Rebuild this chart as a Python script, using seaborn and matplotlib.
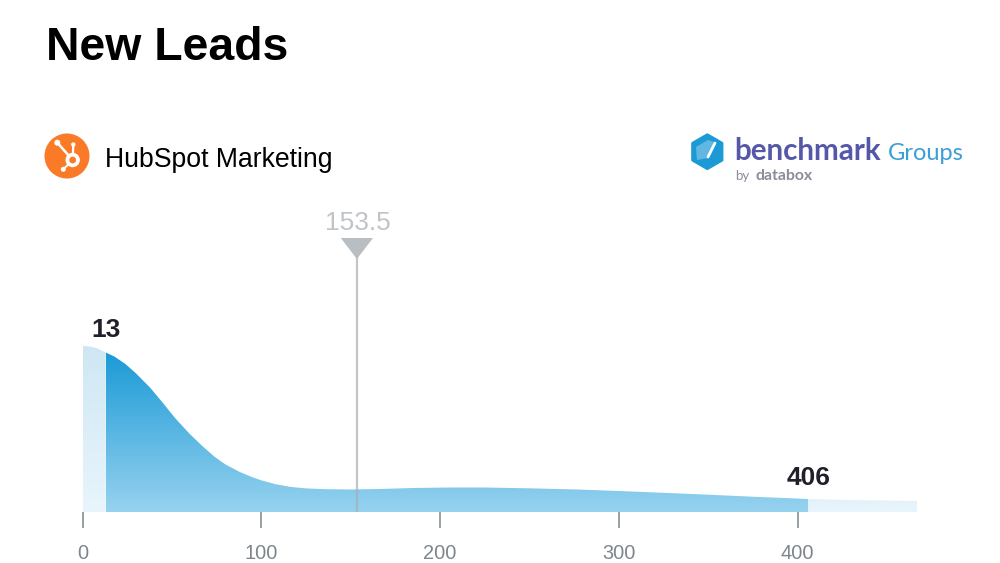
import matplotlib
matplotlib.use('Agg')
import matplotlib.pyplot as plt
from matplotlib.patches import Circle, Polygon, RegularPolygon
import numpy as np
import seaborn as sns

# curve, height in arbitrary units
value_x = [0, 4, 8, 13, 18, 24, 30, 38, 45, 52, 60, 67, 74, 80, 88, 95, 100, 108, 116, 125, 136,
           150, 166, 185, 205, 225, 250, 275, 300, 325, 350, 375, 406, 430, 466.8]
density = [166, 165.6, 163.8, 159.5, 155.3, 148, 138.5, 124, 109, 93.5, 78, 66, 55, 47.5, 40, 34.8,
           31.7, 27.8, 25.2, 23.6, 22.8, 22.5, 23, 24, 24.5, 24.5, 23.7, 22.6, 21, 19.2, 17.3, 15.3, 13, 12, 11]
tick_values = [0, 100, 200, 300, 400]
low_value = 13
high_value = 406
median_value = 153.5

TEXT_DARK = '#1f2029'
TICK_GRAY = '#7d868c'
MEDIAN_GRAY = '#b9bec2'

sns.set_theme(style='white')
plt.rcParams['font.family'] = ['Liberation Sans', 'DejaVu Sans']

fig = plt.figure(figsize=(10, 5.63), dpi=100)
W, H = 1000, 563
ax = fig.add_axes([82.5 / W, (H - 512) / H, (917 - 82.5) / W, 312 / H])

x = np.array(value_x)
y = np.array(density)
sns.lineplot(x=x, y=y, ax=ax, linewidth=0, color='#1a9ad6', errorbar=None)


def gradient_fill(mask, top, bottom, grad_top):
    # vertical gradient clipped to the area under the curve
    poly = ax.fill_between(x[mask], 0, y[mask], color='none', linewidth=0)
    c0 = np.array(matplotlib.colors.to_rgb(top))
    c1 = np.array(matplotlib.colors.to_rgb(bottom))
    t = np.linspace(0, 1, 256)[:, None]
    img = (c0 + (c1 - c0) * t)[:, None, :]
    im = ax.imshow(img, extent=[x[mask][0], x[mask][-1], 0, grad_top], aspect='auto', origin='upper', zorder=2)
    im.set_clip_path(poly.get_paths()[0], transform=ax.transData)


gradient_fill(x <= low_value, '#cfe7f4', '#e8f5fc', 166)
gradient_fill((x >= low_value) & (x <= high_value), '#1a9ad6', '#97d2ef', 159.5)
gradient_fill(x >= high_value, '#e3f2fa', '#e8f5fc', 13)
ax.set_xlim(0, 466.8)
ax.set_ylim(0, 312)

# median marker
ax.plot([median_value, median_value], [0, 265], color='#a9aeb3', lw=1.6, alpha=0.7, zorder=3)
ax.add_patch(Polygon([[median_value - 9, 274], [median_value + 9, 274], [median_value, 253]],
                     closed=True, facecolor=MEDIAN_GRAY, edgecolor='none', zorder=4))
ax.annotate(f'{median_value}', (median_value, 274), xytext=(0.7, 5.5), textcoords='offset points',
            ha='center', va='baseline', fontsize=19, color='#c0c4c8')

ax.annotate(f'{low_value}', (low_value, 159.5), xytext=(0, 11.5), textcoords='offset points',
            ha='center', va='baseline', fontsize=19, fontweight='bold', color=TEXT_DARK)
ax.annotate(f'{high_value}', (high_value, 13), xytext=(0, 10), textcoords='offset points',
            ha='center', va='baseline', fontsize=19, fontweight='bold', color=TEXT_DARK)

sns.despine(ax=ax, left=True, bottom=True, top=True, right=True)
ax.set_yticks([])
ax.set_xticks(tick_values)
ax.tick_params(axis='x', length=11.5, width=1.1, color=TICK_GRAY, labelcolor=TICK_GRAY, labelsize=14.4, pad=11.5, bottom=True)
ax.set_xlabel('')
ax.set_ylabel('')

# header and logos, in pixel coordinates
over = fig.add_axes([0, 0, 1, 1], zorder=5)
over.set_xlim(0, W)
over.set_ylim(H, 0)
over.axis('off')
over.patch.set_alpha(0)

over.text(46, 60, 'New Leads', fontsize=33.4, fontweight='bold', color='black', va='baseline')
over.text(105, 167, 'HubSpot Marketing', fontsize=19.2, color='black', va='baseline')

# HubSpot logo
ORANGE = '#fb7a28'
over.add_patch(Circle((67, 156), 22.5, color=ORANGE, lw=0, zorder=1))
for sx, sy, r, w in [(73.3, 144.5, 2.2, 1.6), (57.3, 142.7, 3, 1.8), (63.3, 169.3, 2.5, 1.4)]:
    over.plot([72.7, sx], [160, sy], color='white', lw=w, solid_capstyle='round', zorder=2)
    over.add_patch(Circle((sx, sy), r, color='white', lw=0, zorder=3))
over.add_patch(Circle((72.7, 160), 7.2, color='white', lw=0, zorder=4))
over.add_patch(Circle((72.7, 160), 3.4, color=ORANGE, lw=0, zorder=5))

# benchmark logo
over.add_patch(RegularPolygon((707.3, 151.7), 6, radius=17, facecolor='#1c9ad6', edgecolor='#1c9ad6',
                              lw=2, joinstyle='round', zorder=1))
over.add_patch(Polygon([[696, 147], [708, 140], [714, 142], [708, 158], [697, 160]], closed=True,
                       facecolor='white', edgecolor='none', alpha=0.3, zorder=2))
over.plot([708, 715], [157, 143], color='white', lw=2, solid_capstyle='round', zorder=3)
over.text(734, 160, 'benchmark', family=['Lato', 'DejaVu Sans'], fontweight='bold', fontsize=21.3,
          color='#5558a8', va='baseline')
over.text(887.5, 160, 'Groups', family=['Lato', 'DejaVu Sans'], fontsize=17, color='#3a9fd8', va='baseline')
over.text(735, 180, 'by', family=['Lato', 'DejaVu Sans'], fontsize=9.5, color='#8a8d9a', va='baseline')
over.text(755, 180, 'databox', family=['Lato', 'DejaVu Sans'], fontweight='bold', fontsize=11.4,
          color='#8a8d9a', va='baseline')

fig.savefig('out.png', dpi=100)
